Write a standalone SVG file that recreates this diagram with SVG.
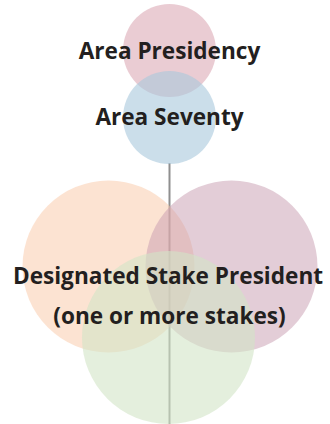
<svg xmlns="http://www.w3.org/2000/svg" width="330" height="424" viewBox="0 0 330 424">
<style>
.lbl{font-family:"Open Sans","Noto Sans","Liberation Sans",sans-serif;font-weight:700;font-size:22.6px;fill:#231f20;text-anchor:middle}
.c{stroke:none}
</style>
<rect width="330" height="424" fill="#ffffff"/>
<g id="connectors">
<line x1="169.5" y1="163" x2="169.5" y2="424" stroke="#8f8f8f" stroke-width="2"/>
</g>
<g id="area-presidency">
<circle class="c" cx="169.5" cy="50.5" r="46.5" fill="#d9a3af" fill-opacity="0.55"/>
</g>
<g id="area-seventy">
<circle class="c" cx="169.5" cy="117.5" r="46.5" fill="#a9c8dc" fill-opacity="0.6"/>
</g>
<g id="stake-circles">
<circle class="c" cx="108.5" cy="266.5" r="86" fill="#f9c8a6" fill-opacity="0.5"/>
<circle class="c" cx="231.5" cy="266.5" r="86" fill="#c89bb0" fill-opacity="0.5"/>
<circle class="c" cx="168.5" cy="337.5" r="86.5" fill="#d2e4c6" fill-opacity="0.6"/>
</g>
<g id="labels">
<text class="lbl" x="169.5" y="58.5">Area Presidency</text>
<text class="lbl" x="169.5" y="124.5">Area Seventy</text>
<text class="lbl" x="168" y="284">Designated Stake President</text>
<text class="lbl" x="169.5" y="323.5">(one or more stakes)</text>
</g>
</svg>
